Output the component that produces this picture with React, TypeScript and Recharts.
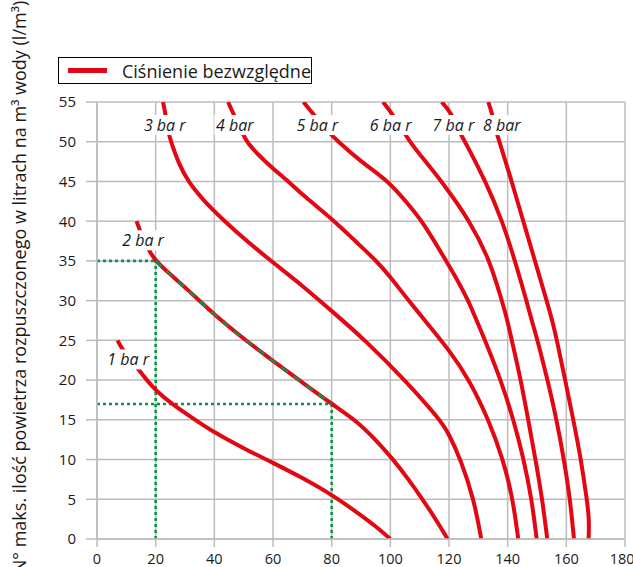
import React from 'react';
import { LineChart, Line, XAxis, YAxis, CartesianGrid, ReferenceLine, ReferenceDot, Legend } from 'recharts';

// tick values
const xTicks = [0, 20, 40, 60, 80, 100, 120, 140, 160, 180];
const yTicks = [0, 5, 10, 15, 20, 25, 30, 35, 40, 45, 50, 55];

// curves (x along the bottom axis, y = l/m3)
const bar1 = [
  { x: 7, y: 25 }, { x: 8.5, y: 23.9 }, { x: 13.6, y: 21.6 }, { x: 16.5, y: 20.2 }, { x: 20, y: 18.7 },
  { x: 25.5, y: 17 }, { x: 33.5, y: 15 }, { x: 40, y: 13.4 }, { x: 50, y: 11.4 }, { x: 60, y: 9.6 },
  { x: 70, y: 7.7 }, { x: 80, y: 5.6 }, { x: 90, y: 3.0 }, { x: 95, y: 1.6 }, { x: 100, y: 0 },
];
const bar2 = [
  { x: 13.5, y: 40 }, { x: 14.7, y: 38.7 }, { x: 17.5, y: 36.4 }, { x: 20, y: 35 }, { x: 25, y: 33.3 },
  { x: 30, y: 31.7 }, { x: 40, y: 28.2 }, { x: 50, y: 25.2 }, { x: 60, y: 22.4 }, { x: 70, y: 19.7 },
  { x: 80, y: 17 }, { x: 88, y: 15 }, { x: 94.5, y: 12.7 }, { x: 101, y: 10 }, { x: 106, y: 7.6 },
  { x: 111, y: 5 }, { x: 116, y: 2.2 }, { x: 119.5, y: 0 },
];
const bar3 = [
  { x: 22.5, y: 55 }, { x: 23.3, y: 53.6 }, { x: 24.2, y: 51.3 }, { x: 25.4, y: 49.8 }, { x: 27.8, y: 47.3 },
  { x: 31, y: 45 }, { x: 36.5, y: 42.5 }, { x: 43.5, y: 40 }, { x: 51, y: 37.5 }, { x: 60, y: 34.8 },
  { x: 70, y: 31.9 }, { x: 80, y: 28.7 }, { x: 91.5, y: 25 }, { x: 105, y: 20 }, { x: 117, y: 15 },
  { x: 120, y: 13.2 }, { x: 124, y: 10 }, { x: 128.5, y: 5 }, { x: 131, y: 0 },
];
const bar4 = [
  { x: 44.7, y: 55 }, { x: 46.5, y: 53.5 }, { x: 49.5, y: 51.2 }, { x: 50.9, y: 50 }, { x: 55.4, y: 48.2 },
  { x: 60, y: 46.6 }, { x: 65.3, y: 45 }, { x: 70.4, y: 43.2 }, { x: 81, y: 40 }, { x: 88, y: 37.5 },
  { x: 95.3, y: 35 }, { x: 100, y: 33 }, { x: 106, y: 30.1 }, { x: 112, y: 27.4 }, { x: 120, y: 23.8 },
  { x: 127, y: 20 }, { x: 133.5, y: 15 }, { x: 138.5, y: 10 }, { x: 141.8, y: 5 }, { x: 143.6, y: 0 },
];
const bar5 = [
  { x: 70.4, y: 55 }, { x: 73.2, y: 53.7 }, { x: 79.2, y: 51.1 }, { x: 82.3, y: 50 }, { x: 89.6, y: 47.6 },
  { x: 99.5, y: 45 }, { x: 105, y: 42.6 }, { x: 111, y: 40 }, { x: 119, y: 35 }, { x: 123, y: 32.5 },
  { x: 126.6, y: 30 }, { x: 129.4, y: 27.5 }, { x: 132.3, y: 25 }, { x: 137.7, y: 20 }, { x: 142, y: 15 },
  { x: 145.5, y: 10 }, { x: 148.2, y: 5 }, { x: 149.9, y: 0 },
];
const bar6 = [
  { x: 97.5, y: 55 }, { x: 100.3, y: 53.7 }, { x: 104.9, y: 51.1 }, { x: 106.6, y: 50 }, { x: 112, y: 47.5 },
  { x: 117.5, y: 45 }, { x: 127.2, y: 40 }, { x: 134, y: 35 }, { x: 138, y: 30 }, { x: 139.8, y: 27.7 },
  { x: 141.4, y: 25 }, { x: 144.5, y: 20 }, { x: 147, y: 15 }, { x: 149.5, y: 10 }, { x: 151.8, y: 5 },
  { x: 153.5, y: 0 },
];
const bar7 = [
  { x: 117.5, y: 55 }, { x: 120.5, y: 53.8 }, { x: 123.7, y: 51.1 }, { x: 125.5, y: 50 }, { x: 132.5, y: 45 },
  { x: 138.2, y: 40 }, { x: 142.5, y: 35 }, { x: 146.4, y: 30 }, { x: 148.2, y: 27.5 }, { x: 150.2, y: 25 },
  { x: 153.6, y: 20 }, { x: 156.7, y: 15 }, { x: 159.2, y: 10 }, { x: 161.3, y: 5 }, { x: 162.6, y: 0 },
];
const bar8 = [
  { x: 133.4, y: 55 }, { x: 134.5, y: 53.8 }, { x: 136.2, y: 51.1 }, { x: 137.2, y: 50 }, { x: 141.4, y: 45 },
  { x: 145.3, y: 40 }, { x: 149.3, y: 35 }, { x: 153.3, y: 30 }, { x: 155.2, y: 27.5 }, { x: 156.8, y: 25 },
  { x: 159.6, y: 20 }, { x: 162.4, y: 15 }, { x: 165, y: 10 }, { x: 167, y: 5 }, { x: 167.8, y: 2.5 },
  { x: 167.6, y: 0 },
];
const curves = [bar1, bar2, bar3, bar4, bar5, bar6, bar7, bar8];

const curveLabels = [
  { text: '1 ba r', x: 10.6, y: 22.6 },
  { text: '2 ba r', x: 15.7, y: 37.6 },
  { text: '3 ba r', x: 23.1, y: 52.1 },
  { text: '4 bar', x: 47, y: 52.1 },
  { text: '5 ba r', x: 75.1, y: 52.1 },
  { text: '6 ba r', x: 100.1, y: 52.1 },
  { text: '7 ba r', x: 121.5, y: 52.1 },
  { text: '8 bar', x: 138, y: 52.1 },
];

// example reading points (green guides)
const guidePoints = [{ x: 20, y: 35 }, { x: 80, y: 17 }];
const guidePath = bar2.filter((p) => p.x >= guidePoints[0].x && p.x <= guidePoints[1].x);

const RED = '#e30613';
const GRID = '#bcbcbc';
const GREEN = '#0f9445';

const curveLabel = (text: string) => (props: any) => {
  const vb = props.viewBox || {};
  const cx = vb.x + (vb.width || 0) / 2;
  const cy = vb.y + (vb.height || 0) / 2;
  const w = text.length * 7 + 6;
  return (
    <g>
      <rect x={cx - w / 2} y={cy - 10} width={w} height={20} fill="#fff" />
      <text x={cx} y={cy} textAnchor="middle" dominantBaseline="central" fontStyle="italic" fontSize={16} fill="#1a1a1a">
        {text}
      </text>
    </g>
  );
};

const yTitle = () => (
  <text transform="translate(19,287) rotate(-90)" textAnchor="middle" dominantBaseline="central" fontSize={18} fill="#1a1a1a">
    N° maks. ilość powietrza rozpuszczonego w litrach na m³ wody (l/m³)
  </text>
);

const legendBox = () => (
  <div style={{ border: '1px solid #000', width: 252, height: 25, display: 'flex', alignItems: 'center', background: '#fff', boxSizing: 'content-box' }}>
    <span style={{ display: 'inline-block', width: 39, height: 5, background: RED, marginLeft: 9 }} />
    <span style={{ marginLeft: 15, fontSize: 18, color: '#1a1a1a', whiteSpace: 'nowrap' }}>Ciśnienie bezwzględne</span>
  </div>
);

export default function App() {
  return (
    <div style={{ position: 'absolute', left: 0, top: 0, width: 633, height: 567, overflow: 'hidden', background: '#fff', fontFamily: '"Open Sans", sans-serif' }}>
      <LineChart width={633} height={567} margin={{ top: 102, right: 8, bottom: 0, left: 37 }}>
        <CartesianGrid stroke={GRID} strokeWidth={1.5} />
        <XAxis
          dataKey="x"
          type="number"
          domain={[0, 180]}
          ticks={xTicks}
          allowDataOverflow
          height={28}
          tickSize={8}
          tickMargin={7}
          axisLine={{ stroke: GRID, strokeWidth: 1.5 }}
          tickLine={{ stroke: GRID, strokeWidth: 1.5 }}
          tick={{ fill: '#1a1a1a', fontSize: 14.5 }}
        />
        <YAxis
          type="number"
          domain={[0, 55]}
          ticks={yTicks}
          allowDataOverflow
          width={60}
          tickSize={11}
          tickMargin={10}
          axisLine={{ stroke: GRID, strokeWidth: 1.5 }}
          tickLine={{ stroke: GRID, strokeWidth: 1.5 }}
          tick={{ fill: '#1a1a1a', fontSize: 15 }}
          label={yTitle}
        />
        <Legend verticalAlign="middle" layout="horizontal" content={legendBox} wrapperStyle={{ top: 57, left: 58, width: 'auto' }} />
        {guidePoints.map((p) => (
          <ReferenceLine key={'v' + p.x} segment={[{ x: p.x, y: 0 }, { x: p.x, y: p.y }]} stroke={GREEN} strokeWidth={2.6} strokeDasharray="3 3" />
        ))}
        {guidePoints.map((p) => (
          <ReferenceLine key={'h' + p.x} segment={[{ x: 0, y: p.y }, { x: p.x, y: p.y }]} stroke={GREEN} strokeWidth={2.6} strokeDasharray="3 3" />
        ))}
        {curves.map((c, i) => (
          <Line
            key={i}
            data={c}
            dataKey="y"
            type="basis"
            stroke={RED}
            strokeWidth={4}
            dot={false}
            activeDot={false}
            isAnimationActive={false}
          />
        ))}
        <Line data={guidePath} dataKey="y" type="basis" stroke={GREEN} strokeWidth={2.4} strokeDasharray="8 7" dot={false} activeDot={false} isAnimationActive={false} />
        {curveLabels.map((l) => (
          <ReferenceDot key={l.text} x={l.x} y={l.y} r={0} fill="none" stroke="none" label={curveLabel(l.text)} />
        ))}
      </LineChart>
    </div>
  );
}
